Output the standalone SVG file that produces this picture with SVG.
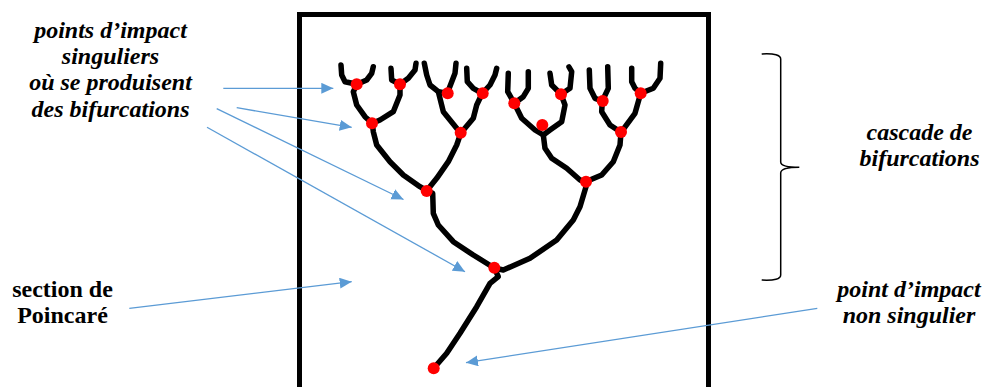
<svg xmlns="http://www.w3.org/2000/svg" width="987" height="387" viewBox="0 0 987 387">
<defs>
<style>
.lbl{font-family:'Liberation Serif','Times New Roman',serif;font-size:24px;font-weight:bold;fill:#000;text-anchor:middle}
.it{font-style:italic}
.br{fill:none;stroke:#000;stroke-width:5.5;stroke-linecap:round;stroke-linejoin:round}
.dot{fill:#FF0000}
.ar{fill:none;stroke:#5B9BD5;stroke-width:1.3}
</style>
<marker id="ah" markerUnits="userSpaceOnUse" markerWidth="13" markerHeight="12" refX="12" refY="5.5" orient="auto">
<path d="M0,0 L12,5.5 L0,11 Z" fill="#5B9BD5"/>
</marker>
</defs>
<rect width="987" height="387" fill="#fff"/>
<g id="section">
<rect x="299.5" y="14.5" width="409" height="400" fill="none" stroke="#000" stroke-width="5"/>
</g>
<g id="tree">
<path class="br" d="M341,65 L341.7,75 L345,81.7 L357,84.3 L366.7,80 L371.7,73.3 L373.3,66.7"/>
<path class="br" d="M357,84.3 L353.3,91.7 L356.7,105 L365,116.7 L372.3,123.3"/>
<path class="br" d="M391,68.3 L391.7,80 L400,84.3 L408.3,78.3 L415,70 L416,63.3"/>
<path class="br" d="M400,84.3 L400,95 L393.3,111.7 L380,120 L372.3,123.3"/>
<path class="br" d="M372.3,123.3 L373.3,131.7 L376.7,145 L390,161.7 L403.3,175 L420,186.7 L426.7,190.7"/>
<path class="br" d="M424.3,63.3 L426.7,75 L430,85 L438.3,91.7 L447.3,93.3"/>
<path class="br" d="M456,63.3 L455,73.3 L447.3,93.3"/>
<path class="br" d="M438.3,91.7 L443.3,111.7 L450,120 L460.7,133.3"/>
<path class="br" d="M466.7,68.3 L467.3,81.7 L473.3,88.3 L482.3,93.3 L490,85 L495,75 L496.7,68.3"/>
<path class="br" d="M482.3,93.3 L476.7,105 L473.3,118.3 L460.7,133.3"/>
<path class="br" d="M460.7,133.3 L456.7,145 L448.3,161.7 L436.7,178.3 L426.7,190.7"/>
<path class="br" d="M426.7,190.7 L432.7,193.3 L433.3,213.3 L438.3,225 L453.3,241.7 L473.3,255 L494.3,268"/>
<path class="br" d="M508.3,73.3 L507.7,91.7 L514.3,103.3 L523.3,96.7 L528.3,88.3 L528.3,71.7"/>
<path class="br" d="M514.3,103.3 L521.7,118.3 L535,130 L543.3,135"/>
<path class="br" d="M550,73.3 L551.7,85 L561,94.3 L570,88.3 L571.7,71.7 L569,67"/>
<path class="br" d="M561,94.3 L565,105 L561.7,121.7 L550,130 L543.3,135"/>
<path class="br" d="M543.3,135 L545,148.3 L551.7,158.3 L566.7,168.3 L580,180 L585.7,181.7"/>
<path class="br" d="M589.3,70 L590,88.3 L595,98.3 L602.3,101 L608.3,88.3 L607.7,66.7"/>
<path class="br" d="M602.3,101 L601.7,111.7 L610,125 L621,132.3"/>
<path class="br" d="M631.7,68.3 L631.7,81.7 L635,88.3 L640.7,93.3 L653.3,88.3 L660,78.3 L660.7,63.3"/>
<path class="br" d="M640.7,93.3 L635,113.3 L621,132.3"/>
<path class="br" d="M621,132.3 L620,145 L613.3,161.7 L601.7,175 L585.7,181.7"/>
<path class="br" d="M585.7,181.7 L586,186.7 L580,206.7 L573.3,220 L556.7,240 L530,258.3 L503.3,270 L494.3,268"/>
<path class="br" d="M494.3,268 L498.3,276.7 L490,283.3 L476.7,306.7 L460,333.3 L446.7,353.3 L433.7,368.3"/>
</g>
<g id="dots">
<circle class="dot" cx="356.7" cy="84.3" r="6"/>
<circle class="dot" cx="400" cy="84.3" r="6"/>
<circle class="dot" cx="447.7" cy="93.3" r="6"/>
<circle class="dot" cx="482.7" cy="93.3" r="6"/>
<circle class="dot" cx="514.3" cy="103.3" r="6"/>
<circle class="dot" cx="561" cy="94.3" r="6"/>
<circle class="dot" cx="602.7" cy="101" r="6"/>
<circle class="dot" cx="640.7" cy="93.3" r="6"/>
<circle class="dot" cx="372" cy="123.3" r="6"/>
<circle class="dot" cx="460.7" cy="132.7" r="6"/>
<circle class="dot" cx="542.3" cy="125" r="6"/>
<circle class="dot" cx="621" cy="132" r="6"/>
<circle class="dot" cx="426.7" cy="191" r="6"/>
<circle class="dot" cx="586" cy="181.7" r="6"/>
<circle class="dot" cx="494.3" cy="267.7" r="6"/>
<circle class="dot" cx="433.7" cy="368.3" r="6"/>
</g>
<g id="brace">
<path d="M761.7,54 Q780.7,53 780.7,59 L780.7,162 Q780.7,167.3 799.3,167.3 Q780.7,167.3 780.7,173 L780.7,275 Q780.7,281 761.7,280" fill="none" stroke="#000" stroke-width="1.5"/>
</g>
<g id="label-singuliers">
<text class="lbl it" x="110.5" y="38">points d’impact</text>
<text class="lbl it" x="110.5" y="64">singuliers</text>
<text class="lbl it" x="110.5" y="90">où se produisent</text>
<text class="lbl it" x="110.5" y="117">des bifurcations</text>
</g>
<g id="label-poincare">
<text class="lbl" x="62.5" y="297">section de</text>
<text class="lbl" x="62.5" y="323">Poincaré</text>
</g>
<g id="label-cascade">
<text class="lbl it" x="919.5" y="140">cascade de</text>
<text class="lbl it" x="919.5" y="166">bifurcations</text>
</g>
<g id="label-nonsingulier">
<text class="lbl it" x="909" y="297">point d’impact</text>
<text class="lbl it" x="909" y="323">non singulier</text>
</g>
<g id="connectors">
<line class="ar" x1="223.3" y1="88.3" x2="333.3" y2="88.3" marker-end="url(#ah)"/>
<line class="ar" x1="236.7" y1="107.7" x2="351.7" y2="127.3" marker-end="url(#ah)"/>
<line class="ar" x1="216.7" y1="108.7" x2="403.5" y2="199.5" marker-end="url(#ah)"/>
<line class="ar" x1="207" y1="127.3" x2="465" y2="271.7" marker-end="url(#ah)"/>
<line class="ar" x1="129.3" y1="308.3" x2="351.7" y2="281.7" marker-end="url(#ah)"/>
<line class="ar" x1="817.3" y1="308.3" x2="466" y2="362.7" marker-end="url(#ah)"/>
</g>
</svg>
